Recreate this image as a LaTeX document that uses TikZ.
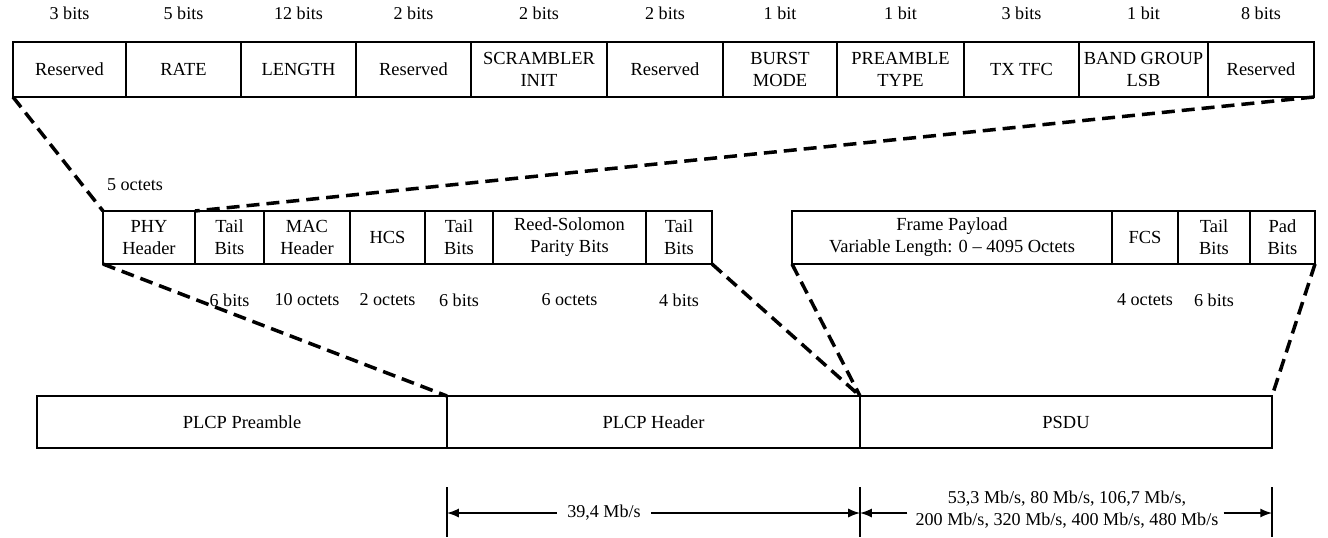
\documentclass[tikz,border=0pt]{standalone}
\usepackage{fontspec}
\setmainfont{Liberation Serif}
\usetikzlibrary{arrows}
\usetikzlibrary{positioning}

\tikzset{
  field/.style={draw, line width=1.6pt, inner sep=1pt, outer sep=0pt, align=center,
    anchor=north west, font=\fontsize{10.5}{12.5}\selectfont},
  note/.style={inner sep=0pt, align=center, font=\fontsize{10.3}{12.5}\selectfont},
  zoomline/.style={line width=2pt, dash pattern=on 2.6mm off 1.4mm},
  rateline/.style={line width=1.3pt, -latex},
  tick/.style={line width=1.6pt}
}

\begin{document}
\begin{tikzpicture}[x=0.2mm, y=-0.2mm]
        \useasboundingbox (0, 0) rectangle (1328, 537);

        % PHY header fields
        \begin{scope}[every node/.append style={minimum height=11mm}]
        \node[field, minimum width=22.6mm] (res1) at (13, 42) {Reserved};
        \node[field, minimum width=23mm] (rate) at (res1.north east) {RATE};
        \node[field, minimum width=23mm] (len) at (rate.north east) {LENGTH};
        \node[field, minimum width=23mm] (res2) at (len.north east) {Reserved};
        \node[field, minimum width=27.2mm] (scr) at (res2.north east) {SCRAMBLER\\INIT};
        \node[field, minimum width=23.2mm] (res3) at (scr.north east) {Reserved};
        \node[field, minimum width=22.8mm] (burst) at (res3.north east) {BURST\\MODE};
        \node[field, minimum width=25.4mm] (ptype) at (burst.north east) {PREAMBLE\\TYPE};
        \node[field, minimum width=23mm] (tfc) at (ptype.north east) {TX TFC};
        \node[field, minimum width=25.8mm] (band) at (tfc.north east) {BAND GROUP\\LSB};
        \node[field, minimum width=21.2mm] (res4) at (band.north east) {Reserved};
        \end{scope}

        \node[note] (bres1) at (res1.north |- 0, 13) {3 bits};
        \node[note] (brate) at (rate.north |- 0, 13) {5 bits};
        \node[note] (blen) at (len.north |- 0, 13) {12 bits};
        \node[note] (bres2) at (res2.north |- 0, 13) {2 bits};
        \node[note] (bscr) at (scr.north |- 0, 13) {2 bits};
        \node[note] (bres3) at (res3.north |- 0, 13) {2 bits};
        \node[note] (bburst) at (burst.north |- 0, 13) {1 bit};
        \node[note] (bptype) at (ptype.north |- 0, 13) {1 bit};
        \node[note] (btfc) at (tfc.north |- 0, 13) {3 bits};
        \node[note] (bband) at (band.north |- 0, 13) {1 bit};
        \node[note] (bres4) at (res4.north |- 0, 13) {8 bits};

        % PLCP header
        \begin{scope}[every node/.append style={minimum height=10.6mm}]
        \node[field, minimum width=18.4mm] (phy) at (103, 211) {PHY\\Header};
        \node[field, minimum width=13.8mm] (tail1) at (phy.north east) {Tail\\Bits};
        \node[field, minimum width=17.2mm] (mac) at (tail1.north east) {MAC\\Header};
        \node[field, minimum width=15mm] (hcs) at (mac.north east) {HCS};
        \node[field, minimum width=13.6mm] (tail2) at (hcs.north east) {Tail\\Bits};
        \node[field, minimum width=30.6mm] (rs) at (tail2.north east) {Reed-Solomon\\Parity Bits};
        \node[field, minimum width=13.2mm] (tail3) at (rs.north east) {Tail\\Bits};

        % PSDU
        \node[field, minimum width=64mm] (payload) at (792, 211) {Frame Payload\\Variable Length: 0 -- 4095 Octets};
        \node[field, minimum width=13.2mm] (fcs) at (payload.north east) {FCS};
        \node[field, minimum width=14.4mm] (tail4) at (fcs.north east) {Tail\\Bits};
        \node[field, minimum width=13mm] (pad) at (tail4.north east) {Pad\\Bits};
        \end{scope}

        \node[note] (ophy) at (135, 185) {5 octets};
        \node[note] (otail1) at (tail1.south |- 0, 300) {6 bits};
        \node[note] (omac) at (mac.south |- 0, 300) {10 octets};
        \node[note] (ohcs) at (hcs.south |- 0, 300) {2 octets};
        \node[note] (otail2) at (tail2.south |- 0, 300) {6 bits};
        \node[note] (ors) at (rs.south |- 0, 300) {6 octets};
        \node[note] (otail3) at (tail3.south |- 0, 300) {4 bits};
        \node[note] (ofcs) at (fcs.south |- 0, 300) {4 octets};
        \node[note] (otail4) at (tail4.south |- 0, 300) {6 bits};

        % PPDU
        \begin{scope}[every node/.append style={minimum height=10.4mm}]
        \node[field, minimum width=82mm] (pre) at (37, 396) {PLCP Preamble};
        \node[field, minimum width=82.6mm] (hdr) at (pre.north east) {PLCP Header};
        \node[field, minimum width=82.4mm] (psdu) at (hdr.north east) {PSDU};
        \end{scope}

        % expansion lines
        \draw[zoomline] (res1.south west) -- (phy.north west);
        \draw[zoomline] (res4.south east) -- (phy.north east);
        \draw[zoomline] (phy.south west) -- (hdr.north west);
        \draw[zoomline] (tail3.south east) -- (hdr.north east);
        \draw[zoomline] (payload.south west) -- (psdu.north west);
        \draw[zoomline] (pad.south east) -- (psdu.north east);

        % data rates
        \coordinate (tk1) at (hdr.south west |- 0, 487);
        \coordinate (tk2) at (psdu.south west |- 0, 487);
        \coordinate (tk3) at (psdu.south east |- 0, 487);
        \draw[tick] (tk1) -- ++(0, 50);
        \draw[tick] (tk2) -- ++(0, 50);
        \draw[tick] (tk3) -- ++(0, 50);

        \node[note] (rhdr) at (604, 513) {39,4 Mb/s};
        \node[note] (rpsdu) at (1067, 510) {53,3 Mb/s, 80 Mb/s, 106,7 Mb/s,\\200 Mb/s, 320 Mb/s, 400 Mb/s, 480 Mb/s};
        \draw[rateline] ([xshift=-2mm]rhdr.west) -- (tk1 |- rhdr.west);
        \draw[rateline] ([xshift=2mm]rhdr.east) -- (tk2 |- rhdr.east);
        \draw[rateline] ([xshift=-1.6mm]rpsdu.west |- rhdr.west) -- (tk2 |- rhdr.west);
        \draw[rateline] ([xshift=1mm]rpsdu.east |- rhdr.east) -- (tk3 |- rhdr.east);
\end{tikzpicture}
\end{document}
